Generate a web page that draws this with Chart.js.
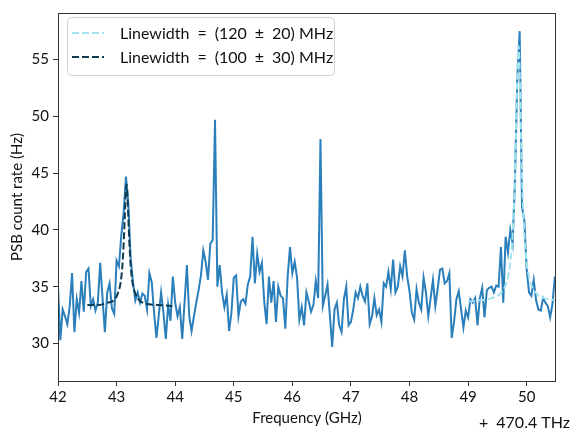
<!DOCTYPE html>
<html>
<head>
<meta charset="utf-8">
<script src="https://cdn.jsdelivr.net/npm/chart.js@4.4.1/dist/chart.umd.min.js"></script>
<style>
    html, body { margin: 0; padding: 0; background: #fff; }
</style>
</head>
<body>
<canvas id="mycanvas" width="572" height="430"></canvas>
<script>
// PSB count rate, 40 MHz steps, one array per GHz (offset + 470.4 THz)
var freqStart = 42.0;
var freqStep = 0.04;
var rate42 = [35.0, 30.3, 33.0, 32.4, 31.7, 33.3, 36.2, 31.0, 33.9, 32.7, 35.5, 32.8, 36.3,
              36.6, 33.3, 33.9, 32.9, 33.6, 37.1, 34.0, 31.0, 34.5, 35.3, 33.1, 32.6];
var rate43 = [37.3, 36.8, 39.5, 41.5, 44.7, 42.3, 37.5, 35.4, 33.8, 34.5, 33.6, 34.4, 34.2,
              33.0, 36.2, 35.4, 32.7, 30.5, 32.5, 34.5, 32.7, 30.4, 33.4, 32.0, 35.9];
var rate44 = [33.6, 32.4, 33.2, 30.4, 33.6, 36.9, 32.4, 31.1, 32.4, 33.6, 34.7, 36.0, 38.2,
              37.2, 35.6, 38.8, 39.1, 49.7, 35.0, 36.9, 34.5, 33.2, 34.3, 31.1, 32.7];
var rate45 = [35.8, 36.0, 32.4, 33.7, 33.9, 33.5, 35.2, 35.9, 39.4, 35.3, 37.9, 36.3, 37.1,
              33.7, 31.7, 35.9, 33.6, 35.5, 31.9, 35.0, 34.2, 34.0, 31.3, 35.9, 38.5];
var rate46 = [36.2, 37.2, 35.8, 32.1, 33.2, 31.6, 34.5, 33.7, 32.8, 33.4, 35.5, 34.0, 48.0,
              33.3, 34.2, 35.2, 32.5, 29.7, 33.0, 33.6, 31.6, 31.0, 33.9, 35.0, 31.6];
var rate47 = [31.9, 33.0, 34.5, 34.0, 35.0, 34.2, 33.7, 35.3, 31.7, 32.4, 34.0, 32.5, 33.0,
              31.9, 35.3, 35.0, 36.3, 34.8, 37.4, 34.5, 35.0, 36.8, 35.9, 38.2, 35.9];
var rate48 = [34.6, 32.7, 32.1, 34.8, 33.6, 33.0, 35.8, 34.5, 32.4, 34.0, 35.6, 33.3, 34.8,
              36.5, 36.6, 35.3, 35.5, 36.2, 30.5, 31.9, 33.9, 34.6, 33.0, 31.4, 32.9];
var rate49 = [32.3, 33.9, 33.6, 34.0, 31.6, 34.0, 34.9, 32.3, 34.7, 34.9, 35.0, 34.5, 35.1,
              35.0, 38.5, 33.6, 39.4, 38.0, 40.0, 38.8, 44.5, 53.5, 57.5, 42.0, 40.8];
var rate50 = [36.5, 34.5, 34.2, 35.6, 33.8, 33.0, 32.9, 34.0, 33.6, 33.3, 32.3, 33.5, 35.9];

// Lorentzian fits around the two lines
var fitFreqA = [49.00, 49.20, 49.40, 49.55, 49.65, 49.72, 49.76, 49.79, 49.81, 49.83, 49.85,
                49.86, 49.87, 49.89, 49.91, 49.93, 49.96, 50.00, 50.06, 50.15, 50.30, 50.50];
var fitRateA = [33.7, 33.8, 34.0, 34.4, 35.3, 37.1, 39.6, 43.2, 46.9, 51.7, 55.6,
                56.2, 55.6, 51.7, 46.9, 43.2, 39.6, 37.1, 35.5, 34.5, 34.0, 33.8];
var fitFreqB = [42.50, 42.70, 42.85, 42.95, 43.02, 43.07, 43.10, 43.12, 43.14, 43.16, 43.17,
                43.18, 43.20, 43.22, 43.24, 43.27, 43.32, 43.39, 43.50, 43.70, 43.95];
var fitRateB = [33.4, 33.4, 33.6, 33.8, 34.4, 35.4, 36.9, 38.7, 41.2, 43.6, 44.0,
                43.6, 41.2, 38.7, 36.9, 35.4, 34.4, 33.8, 33.5, 33.4, 33.3];
// en spaces give the math-style gaps around = and ±
var fitLabels = ["Linewidth\u2002=\u2002(120\u2002\u00b1\u200220) MHz",
                 "Linewidth\u2002=\u2002(100\u2002\u00b1\u200230) MHz"];

var xTicks = [42, 43, 44, 45, 46, 47, 48, 49, 50];
var yTicks = [30, 35, 40, 45, 50, 55];

var FONT = "Lato";
var AXIS = "#333333";

function toPoints(xs, ys) {
    return ys.map(function(v, i) { return { x: xs[i], y: v }; });
}

var rates = rate42.concat(rate43, rate44, rate45, rate46, rate47, rate48, rate49, rate50);
var ratePoints = rates.map(function(v, i) {
    return { x: +(freqStart + i * freqStep).toFixed(2), y: v };
});

// frame, inset legend and the offset label
var decorations = {
    id: "decorations",
    afterDraw: function(chart) {
        var ctx = chart.ctx;
        var a = chart.chartArea;
        ctx.save();
        ctx.strokeStyle = AXIS;
        ctx.lineWidth = 1;
        ctx.strokeRect(a.left + 0.5, a.top + 0.5, a.right - a.left - 1, a.bottom - a.top);

        // legend box
        var bx = 67.5, by = 17.5, bw = 267, bh = 58, r = 4;
        ctx.beginPath();
        ctx.moveTo(bx + r, by);
        ctx.arcTo(bx + bw, by, bx + bw, by + bh, r);
        ctx.arcTo(bx + bw, by + bh, bx, by + bh, r);
        ctx.arcTo(bx, by + bh, bx, by, r);
        ctx.arcTo(bx, by, bx + bw, by, r);
        ctx.closePath();
        ctx.fillStyle = "rgba(255,255,255,0.8)";
        ctx.fill();
        ctx.strokeStyle = "#d0d0d0";
        ctx.stroke();

        var rows = [33, 57];
        for (var i = 0; i < 2; i++) {
            var ds = chart.data.datasets[i];
            ctx.beginPath();
            ctx.setLineDash(ds.borderDash);
            ctx.strokeStyle = ds.borderColor;
            ctx.lineWidth = ds.borderWidth;
            ctx.moveTo(72, rows[i]);
            ctx.lineTo(104, rows[i]);
            ctx.stroke();
            ctx.setLineDash([]);
            ctx.fillStyle = "#111";
            ctx.font = "16px " + FONT;
            ctx.textBaseline = "middle";
            ctx.textAlign = "left";
            ctx.fillText(ds.label, 120, rows[i] + 1);
        }

        ctx.font = "16px " + FONT;
        ctx.textAlign = "right";
        ctx.textBaseline = "middle";
        ctx.fillStyle = "#111";
        ctx.fillText("+\u2002470.4 THz", 570, 423);
        ctx.restore();
    }
};

var ctx = document.getElementById("mycanvas");

var spectrum = new Chart(ctx, {
    type: "line",
    data: {
        datasets: [{
            label: fitLabels[0],
            data: toPoints(fitFreqA, fitRateA),
            borderColor: "#a3e2ef",
            borderWidth: 2,
            borderDash: [7, 3],
            pointRadius: 0,
            cubicInterpolationMode: "monotone",
            fill: false
        }, {
            label: fitLabels[1],
            data: toPoints(fitFreqB, fitRateB),
            borderColor: "#0f3b50",
            borderWidth: 2,
            borderDash: [7, 3],
            pointRadius: 0,
            cubicInterpolationMode: "monotone",
            fill: false
        }, {
            label: "data",
            data: ratePoints,
            borderColor: "#2b7fba",
            borderWidth: 2,
            pointRadius: 0,
            tension: 0,
            fill: false
        }]
    },
    options: {
        responsive: false,
        animation: false,
        devicePixelRatio: 1,
        layout: { padding: { left: 0, right: 16, top: 8, bottom: 0 } },
        plugins: {
            legend: { display: false },
            tooltip: { enabled: false }
        },
        scales: {
            x: {
                type: "linear",
                min: 42,
                max: 50.5,
                afterBuildTicks: function(scale) {
                    scale.ticks = xTicks.map(function(v) { return { value: v }; });
                },
                afterFit: function(scale) { scale.height = 49; },
                border: { display: false },
                grid: { drawOnChartArea: false, tickLength: 5, tickColor: AXIS },
                ticks: { color: "#111", font: { family: FONT, size: 15 }, padding: 2, maxRotation: 0 },
                title: {
                    display: true,
                    text: "Frequency (GHz)",
                    color: "#111",
                    font: { family: FONT, size: 15 },
                    padding: { top: 0, bottom: 3 }
                }
            },
            y: {
                min: 26.7,
                max: 59.1,
                afterBuildTicks: function(scale) {
                    scale.ticks = yTicks.map(function(v) { return { value: v }; });
                },
                afterFit: function(scale) { scale.width = 58; },
                border: { display: false },
                grid: { drawOnChartArea: false, tickLength: 5, tickColor: AXIS },
                ticks: { color: "#111", font: { family: FONT, size: 15 }, padding: 4 },
                title: {
                    display: true,
                    text: "PSB count rate (Hz)",
                    color: "#111",
                    font: { family: FONT, size: 15 },
                    padding: { top: 8, bottom: 0 }
                }
            }
        }
    },
    plugins: [decorations]
});
</script>
</body>
</html>
